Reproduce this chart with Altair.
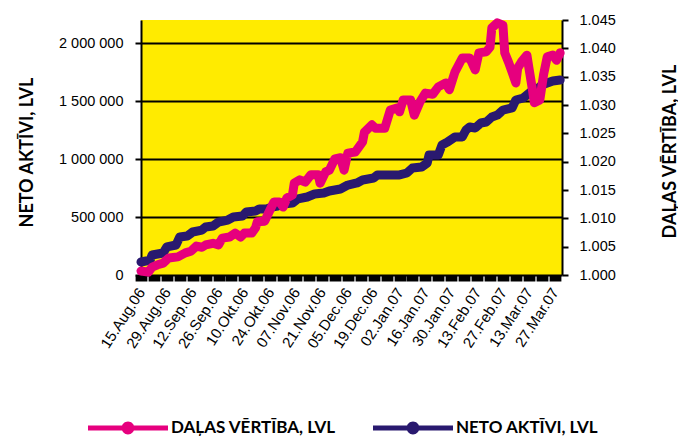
import altair as alt
import pandas as pd

# ---- data ----
neto_dates = ["2006-08-15","2006-08-20","2006-08-21","2006-08-27","2006-08-29","2006-09-03","2006-09-05","2006-09-09","2006-09-12","2006-09-17",
              "2006-09-19","2006-09-23","2006-09-26","2006-10-01","2006-10-04","2006-10-09","2006-10-11","2006-10-16","2006-10-18","2006-10-22",
              "2006-10-25","2006-10-28","2006-10-31","2006-11-05","2006-11-08","2006-11-13","2006-11-17","2006-11-22","2006-11-25","2006-12-01",
              "2006-12-05","2006-12-10","2006-12-13","2006-12-19","2006-12-21","2006-12-28","2007-01-02","2007-01-06","2007-01-09","2007-01-14",
              "2007-01-17","2007-01-18","2007-01-23","2007-01-25","2007-01-28","2007-02-01","2007-02-05","2007-02-07","2007-02-09","2007-02-12",
              "2007-02-15","2007-02-18","2007-02-21","2007-02-24","2007-02-27","2007-03-04","2007-03-06","2007-03-10","2007-03-14","2007-03-17",
              "2007-03-20","2007-03-23","2007-03-26","2007-03-30"]
neto_values = [112000,129000,173000,190000,242000,259000,328000,336000,371000,388000,
               414000,423000,457000,474000,500000,509000,544000,552000,569000,569000,
               587000,595000,613000,621000,656000,673000,699000,707000,725000,742000,
               776000,794000,820000,837000,863000,863000,863000,880000,923000,932000,
               966000,1035000,1035000,1122000,1147000,1191000,1191000,1251000,1277000,1268000,
               1311000,1320000,1363000,1380000,1423000,1441000,1510000,1527000,1579000,1596000,
               1639000,1656000,1674000,1682000]

dalas_dates = ["2006-08-15","2006-08-19","2006-08-21","2006-08-24","2006-08-27","2006-08-30","2006-09-04","2006-09-08","2006-09-11","2006-09-14",
               "2006-09-17","2006-09-19","2006-09-23","2006-09-26","2006-09-28","2006-10-02","2006-10-05","2006-10-08","2006-10-10","2006-10-14",
               "2006-10-16","2006-10-17","2006-10-21","2006-10-23","2006-10-26","2006-10-29","2006-10-31","2006-11-02","2006-11-05","2006-11-06",
               "2006-11-09","2006-11-12","2006-11-15","2006-11-19","2006-11-20","2006-11-23","2006-11-25","2006-11-28","2006-12-01","2006-12-03",
               "2006-12-05","2006-12-09","2006-12-13","2006-12-14","2006-12-18","2006-12-20","2006-12-25","2006-12-28","2007-01-01","2007-01-02",
               "2007-01-04","2007-01-08","2007-01-10","2007-01-13","2007-01-16","2007-01-20","2007-01-23","2007-01-27","2007-01-29","2007-02-01",
               "2007-02-05","2007-02-09","2007-02-12","2007-02-14","2007-02-18","2007-02-20","2007-02-21","2007-02-24","2007-02-27","2007-02-28",
               "2007-03-02","2007-03-04","2007-03-06","2007-03-07","2007-03-09","2007-03-12","2007-03-13","2007-03-15","2007-03-16","2007-03-19",
               "2007-03-21","2007-03-23","2007-03-26","2007-03-28","2007-03-30"]
dalas_values = [1.0007,1.0005,1.0014,1.0018,1.0021,1.0030,1.0032,1.0039,1.0042,1.0051,
                1.0049,1.0053,1.0056,1.0053,1.0065,1.0067,1.0074,1.0067,1.0074,1.0074,
                1.0083,1.0094,1.0095,1.0109,1.0129,1.0129,1.0120,1.0136,1.0141,1.0162,
                1.0168,1.0164,1.0177,1.0177,1.0162,1.0182,1.0185,1.0205,1.0207,1.0185,
                1.0215,1.0217,1.0235,1.0252,1.0265,1.0259,1.0259,1.0291,1.0295,1.0288,
                1.0309,1.0309,1.0282,1.0305,1.0321,1.0319,1.0332,1.0339,1.0327,1.0358,
                1.0383,1.0383,1.0362,1.0392,1.0394,1.0402,1.0436,1.0445,1.0441,1.0392,
                1.0376,1.0358,1.0339,1.0365,1.0376,1.0388,1.0367,1.0327,1.0304,1.0309,
                1.0353,1.0385,1.0388,1.0379,1.0392]

series_names = ["DAĻAS VĒRTĪBA, LVL", "NETO AKTĪVI, LVL"]
series_colors = ["#E6007E", "#29196F"]

x_tick_labels = ["15.Aug.06","29.Aug.06","12.Sep.06","26.Sep.06","10.Okt.06","24.Okt.06","07.Nov.06","21.Nov.06",
                 "05.Dec.06","19.Dec.06","02.Jan.07","16.Jan.07","30.Jan.07","13.Feb.07","27.Feb.07","13.Mar.07","27.Mar.07"]
left_ticks = [0, 500000, 1000000, 1500000, 2000000]
right_ticks = [1.000, 1.005, 1.010, 1.015, 1.020, 1.025, 1.030, 1.035, 1.040, 1.045]

# ---- tables ----
neto_df = pd.DataFrame({"date": pd.to_datetime(neto_dates), "value": neto_values, "series": series_names[1]})
dalas_df = pd.DataFrame({"date": pd.to_datetime(dalas_dates), "value": dalas_values, "series": series_names[0]})
legend_df = pd.DataFrame({"series": series_names})

def dt(ts):
    return alt.DateTime(year=ts.year, month=ts.month, date=ts.day)

week_ticks = [dt(t) for t in pd.date_range("2006-08-15", "2007-03-27", freq="7D")]
labels_js = "[" + ",".join("'%s'" % s for s in x_tick_labels) + "]"
x_label_expr = ("(round((datum.value - datetime(2006,7,15)) / 604800000) % 2 == 0) ? "
                + labels_js + "[round((datum.value - datetime(2006,7,15)) / 1209600000)] : ''")

TICK_FONT = "Liberation Sans"
TITLE_FONT = "Lato"

x_enc = alt.X(
    "date:T",
    scale=alt.Scale(domain=[alt.DateTime(year=2006, month=8, date=15), alt.DateTime(year=2007, month=3, date=31)]),
    axis=alt.Axis(values=week_ticks, labelExpr=x_label_expr, labelAngle=-57, labelFont=TICK_FONT,
                  labelFontSize=15, labelColor="black", labelFlush=False, labelOverlap=False,
                  tickColor="black", tickWidth=11.8, tickSize=6, domain=False, grid=False,
                  labelPadding=8, title=None),
)

neto_layer = alt.Chart(neto_df).mark_line(strokeWidth=9, strokeCap="round", strokeJoin="round",
                                          color=series_colors[1]).encode(
    x=x_enc,
    y=alt.Y("value:Q", scale=alt.Scale(domain=[0, 2200000], nice=False, zero=True),
            axis=alt.Axis(values=left_ticks,
                          labelExpr="replace(replace(format(datum.value, ','), ',', ' '), ',', ' ')",
                          title="NETO AKTĪVI, LVL", grid=True, gridColor="black", gridWidth=1.8, gridOpacity=1,
                          domainColor="black", domainWidth=2, tickColor="black", tickWidth=2, tickSize=6,
                          labelPadding=12, labelFont=TICK_FONT, labelFontSize=14.5, labelColor="black",
                          titleFont=TITLE_FONT, titleFontSize=18, titleFontWeight="bold", titleColor="black",
                          titleAngle=270, titleX=-114, titleY=132, titleAlign="center", titleBaseline="middle")),
)

dalas_layer = alt.Chart(dalas_df).mark_line(strokeWidth=9, strokeCap="round", strokeJoin="round",
                                            color=series_colors[0]).encode(
    x=x_enc,
    y=alt.Y("value:Q", scale=alt.Scale(domain=[1.0, 1.045], nice=False, zero=False),
            axis=alt.Axis(orient="right", values=right_ticks, format=".3f", grid=False,
                          title="DAĻAS VĒRTĪBA, LVL",
                          domainColor="black", domainWidth=2, tickColor="black", tickWidth=2, tickSize=6,
                          labelPadding=11, labelFont=TICK_FONT, labelFontSize=14.5, labelColor="black",
                          titleFont=TITLE_FONT, titleFontSize=18, titleFontWeight="bold", titleColor="black",
                          titleAngle=270, titleX=108, titleY=131, titleAlign="center", titleBaseline="middle")),
)

symbol_path = ("M-1,-0.06L1,-0.06L1,0.06L-1,0.06Z "
               "M-0.16,0A0.16,0.16 0 1,1 0.16,0A0.16,0.16 0 1,1 -0.16,0Z")

legend_layer = alt.Chart(legend_df).mark_point(filled=True).encode(
    x=alt.value(-500), y=alt.value(-500),
    fill=alt.Fill("series:N", scale=alt.Scale(domain=series_names, range=series_colors),
                  legend=alt.Legend(title=None, orient="none", legendX=-53, legendY=368,
                                    direction="horizontal", columns=2, symbolType=symbol_path,
                                    symbolSize=6400, symbolStrokeWidth=0, symbolOpacity=1,
                                    labelFont=TITLE_FONT, labelFontSize=17, labelFontWeight="bold",
                                    labelColor="black", labelOffset=3, columnPadding=37, padding=0,
                                    labelLimit=400)),
)

chart = alt.layer(neto_layer, dalas_layer, legend_layer).resolve_scale(
    y="independent"
).properties(
    width=421, height=255,
    padding={"left": 133, "top": 12, "right": 116, "bottom": 165},
    autosize=alt.AutoSizeParams(type="none"),
    background="white",
).configure_view(fill="#FFEB00", strokeWidth=0)

chart.save("out.html", embed_options={"renderer": "svg", "actions": False})
